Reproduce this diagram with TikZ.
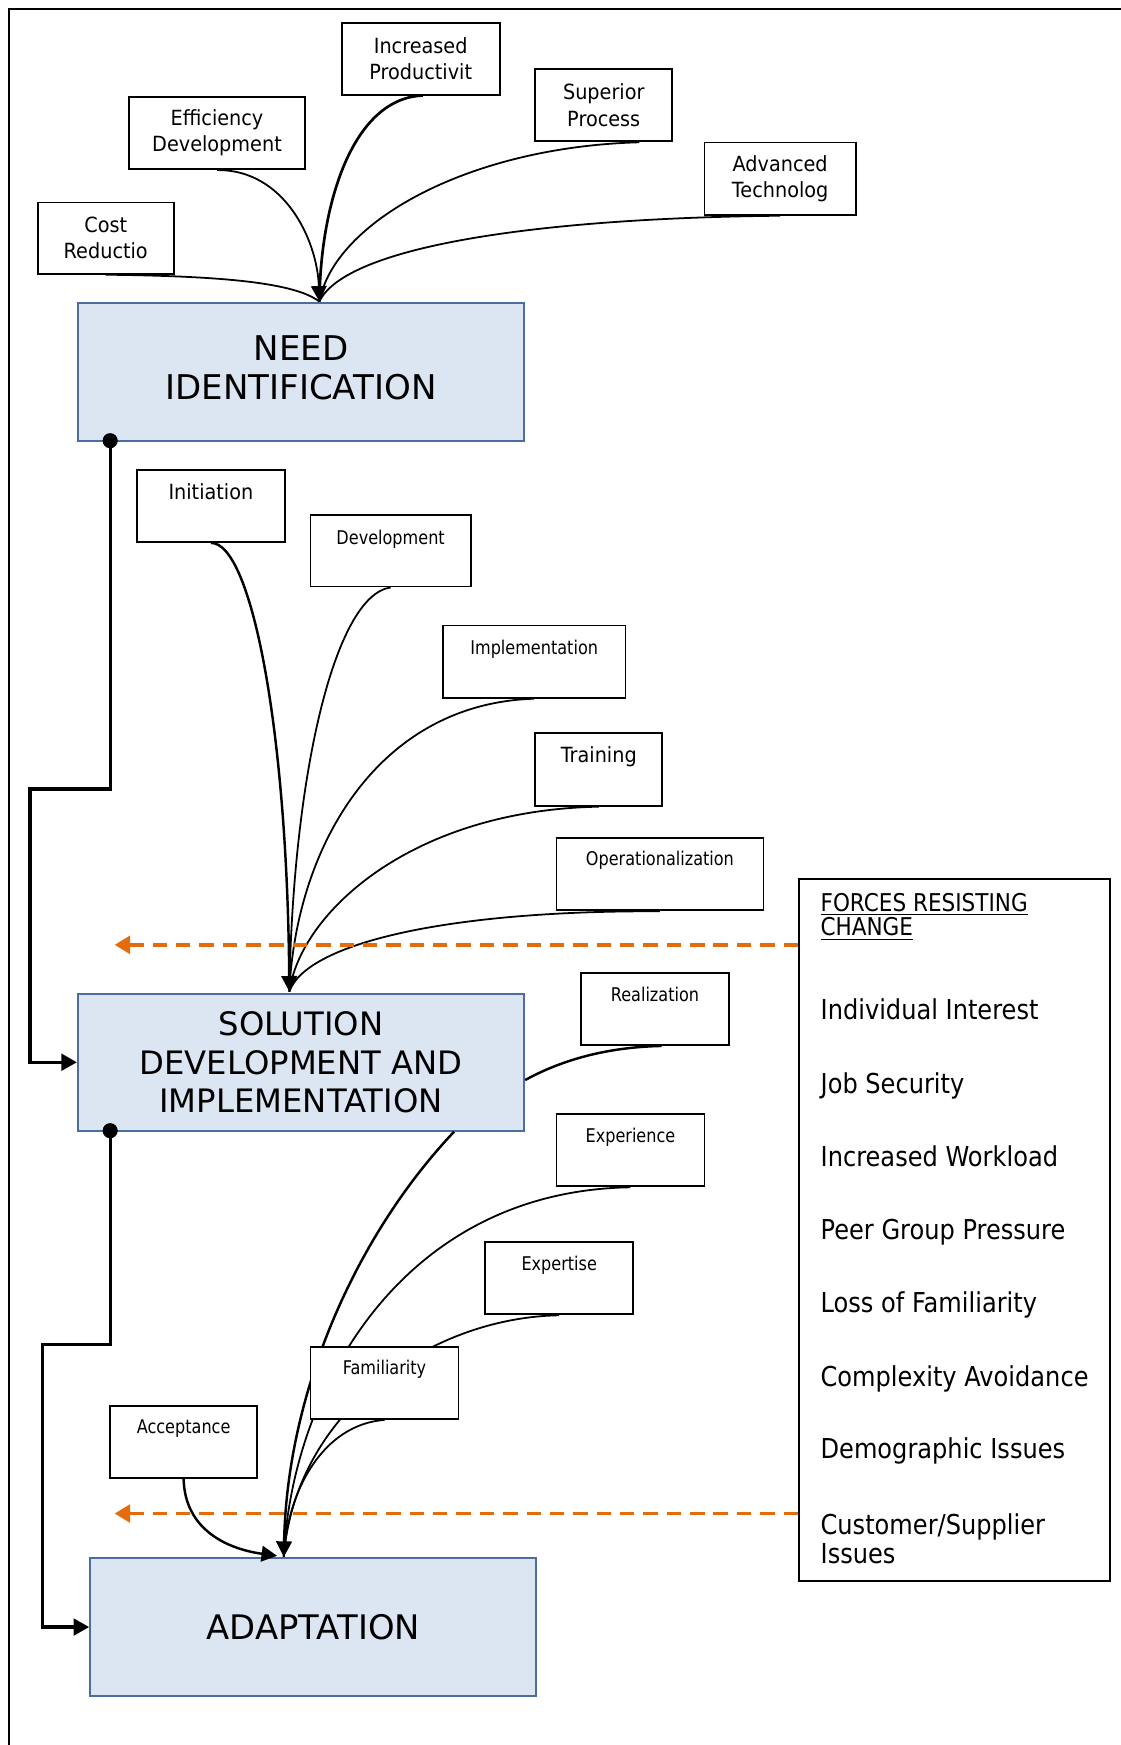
\documentclass[tikz,border=0pt]{standalone}
\usepackage{fontspec}
\setmainfont{DejaVu Sans}
\newfontfamily\stagefont{DejaVu Sans}
\newfontfamily\tagfont[FakeStretch=0.92]{DejaVu Sans}
\newfontfamily\narrowfont[FakeStretch=0.85]{DejaVu Sans}
\newfontfamily\forcefont[FakeStretch=0.88]{DejaVu Sans}
\usetikzlibrary{arrows.meta}

\definecolor{stagefill}{HTML}{DCE6F2}
\definecolor{stageline}{HTML}{4A6E9F}
\definecolor{resist}{HTML}{E46C0A}

\tikzset{
  stage/.style={draw=stageline, fill=stagefill, line width=0.9pt, align=center, inner sep=0pt,
    minimum width=200.5pt, font=\stagefont\fontsize{14.5}{17.4}\selectfont},
  tagbox/.style={draw=black, fill=white, line width=0.85pt, inner sep=0pt, align=center,
    minimum height=32.5pt, font=\tagfont\fontsize{9.4}{11.75}\selectfont},
  tagtext/.style={inner sep=0pt, anchor=mid, font=\tagfont\fontsize{9.4}{11.75}\selectfont},
  narrowtext/.style={inner sep=0pt, anchor=mid, font=\narrowfont\fontsize{8.5}{10}\selectfont},
  forceitem/.style={inner sep=0pt, anchor=mid west, align=left,
    font=\forcefont\fontsize{12.3}{13}\selectfont},
  feed/.style={draw=black, line width=0.8pt},
  feedhead/.style={-{Triangle[length=7pt,width=7pt]}},
  stagelink/.style={draw=black, line width=1.4pt, line join=miter},
  linkhead/.style={-{Triangle[length=7pt,width=7.5pt]}},
  resistarrow/.style={draw=resist, line width=1.6pt, dash pattern=on 6.5pt off 4pt,
    -{Triangle[length=7pt,width=8pt,fill=resist]}},
}

\begin{document}
\begin{tikzpicture}[x=0.5pt, y=-0.5pt]
\useasboundingbox (0,0) rectangle (1007,1568);

% outer frame
\draw[line width=1pt] (8,1568) -- (8,8) -- (1007,8);

% ---------- stage boxes ----------
\node[stage, minimum height=62pt, font=\stagefont\fontsize{15.3}{17.5}\selectfont]
  (need) at (270.5,334) {NEED\\IDENTIFICATION\rule[-4pt]{0pt}{1pt}};
\node[stage, minimum height=61.5pt] (sol) at (270.5,954.5) {SOLUTION\\DEVELOPMENT AND\\IMPLEMENTATION};
\node[stage, minimum height=62pt, font=\stagefont\fontsize{15.2}{17.4}\selectfont]
  (adapt) at (281.5,1462) {ADAPTATION};

% ---------- drivers of need ----------
\node[tagbox, minimum width=61pt, minimum height=32pt] (cost) at (95,214) {Cost\\Reductio};
\node[tagbox, minimum width=79pt] (eff) at (195,119.5) {Efficiency\\Development};
\node[tagbox, minimum width=71pt, minimum height=32pt] (incp) at (378,53) {Increased\\Productivit};
\node[tagbox, minimum width=61.5pt] (sup) at (542.5,94.5) {Superior\\Process};
\node[tagbox, minimum width=68pt] (adv) at (701,160.5) {Advanced\\Technolog};

\coordinate (t1) at (287,271);
\draw[feed] (cost.south) .. controls (200,248) and (265,254) .. (t1);
\draw[feed] ([xshift=16pt]sup.south) .. controls (420,132) and (300,200) .. (t1);
\draw[feed] (adv.south) .. controls (480,196) and (310,222) .. (t1);
\draw[feed, line width=1.2pt] ([xshift=1pt]incp.south) .. controls (318,88) and (288,180) .. (t1);
\draw[feed, feedhead] (eff.south) .. controls (255,152) and (285,215) .. (t1);

% ---------- solution phases ----------
\node[tagbox, minimum width=66.5pt] (init) at (189.5,454.5) {};
\node[tagtext] (initt) at (189.5,443) {Initiation};
\node[tagbox, minimum width=72pt, minimum height=32pt] (devl) at (351,495) {};
\node[narrowtext] (devlt) at (351,483.5) {Development};
\node[tagbox, minimum width=82pt] (impl) at (480,594.5) {};
\node[narrowtext] (implt) at (480,582.5) {Implementation};
\node[tagbox, minimum width=57pt] (train) at (538,691.5) {};
\node[tagtext] (traint) at (538,680) {Training};
\node[tagbox, minimum width=93pt] (oper) at (593,785.5) {};
\node[narrowtext] (opert) at (593,772.5) {Operationalization};

\coordinate (t2) at (260,891);
\draw[feed] (devl.south) .. controls (300,535) and (263,700) .. (t2);
\draw[feed] (impl.south) .. controls (340,632) and (266,760) .. (t2);
\draw[feed] (train.south) .. controls (370,728) and (270,820) .. (t2);
\draw[feed] (oper.south) .. controls (400,818) and (275,848) .. (t2);
\draw[feed, line width=1.1pt, feedhead] (init.south) .. controls (225,487) and (258,650) .. (t2);

\node[tagbox, minimum width=66.5pt] (real) at (588.5,906.5) {};
\node[narrowtext] (realt) at (588.5,894) {Realization};
\coordinate (s1) at ([yshift=-8pt]sol.east);
\draw[feed, line width=1.1pt] ([xshift=3pt]real.south) .. controls (540,941) and (500,955) .. (s1);

% ---------- adaptation factors ----------
\node[tagbox, minimum width=66.5pt] (exp) at (566.5,1033.5) {};
\node[narrowtext] (expt0) at (566.5,1021) {Experience};
\node[tagbox, minimum width=66.5pt] (expt) at (502.5,1148.5) {};
\node[narrowtext] (exptt) at (502.5,1136) {Expertise};
\node[tagbox, minimum width=66pt] (acc) at (165,1295.5) {};
\node[narrowtext] (acct) at (165,1283) {Acceptance};

\coordinate (t3) at (255,1399);
\coordinate (t4) at (249,1398);
\coordinate (s2) at ([xshift=68.75pt]sol.south);
\draw[feed] (exp.south) .. controls (360,1070) and (262,1250) .. (t3);
\draw[feed] (expt.south) .. controls (385,1184) and (265,1270) .. (t3);
\draw[feed, line width=1.1pt, feedhead] (s2) .. controls (320,1110) and (258,1250) .. (t3);

\node[tagbox, minimum width=66.5pt] (fam) at (345.5,1242.5) {};
\node[narrowtext] (famt) at (345.5,1230) {Familiarity};
\draw[feed] (fam.south) .. controls (290,1280) and (258,1340) .. (t3);
\draw[feed, line width=1.1pt, feedhead] (acc.south) .. controls (166,1375) and (205,1392) .. (t4);

% ---------- stage links ----------
\coordinate (d1) at (99,396);
\coordinate (d2) at (99,1016);
\draw[stagelink, linkhead] (d1) -- (99,709) -- (27,709) |- (sol.west);
\draw[stagelink, linkhead] (d2) -- (99,1208) -- (38,1208) |- (adapt.west);
\fill (d1) circle (3.4pt);
\fill (d2) circle (3.4pt);

% ---------- forces resisting change ----------
\node[draw=black, line width=0.9pt, inner sep=0pt, minimum width=139.5pt, minimum height=315.5pt]
  (forces) at (857.5,1105.5) {};
\node[inner sep=0pt, anchor=west, align=left, font=\forcefont\fontsize{11}{11}\selectfont]
  (fhead) at (737,824) {\underline{FORCES RESISTING}\\\underline{CHANGE}};
\node[forceitem] (f1) at (737,911) {Individual Interest};
\node[forceitem] (f2) at (737,977) {Job Security};
\node[forceitem] (f3) at (737,1043) {Increased Workload};
\node[forceitem] (f4) at (737,1108) {Peer Group Pressure};
\node[forceitem] (f5) at (737,1174) {Loss of Familiarity};
\node[forceitem] (f6) at (737,1240) {Complexity Avoidance};
\node[forceitem] (f7) at (737,1305) {Demographic Issues};
\node[forceitem, anchor=west] (f8) at (737,1383) {Customer/Supplier\\Issues};

\coordinate (o1) at (103,849);
\coordinate (o2) at (103,1360);
\draw[resistarrow] (forces.west |- o1) -- (o1);
\draw[resistarrow] (forces.west |- o2) -- (o2);

\end{tikzpicture}
\end{document}
